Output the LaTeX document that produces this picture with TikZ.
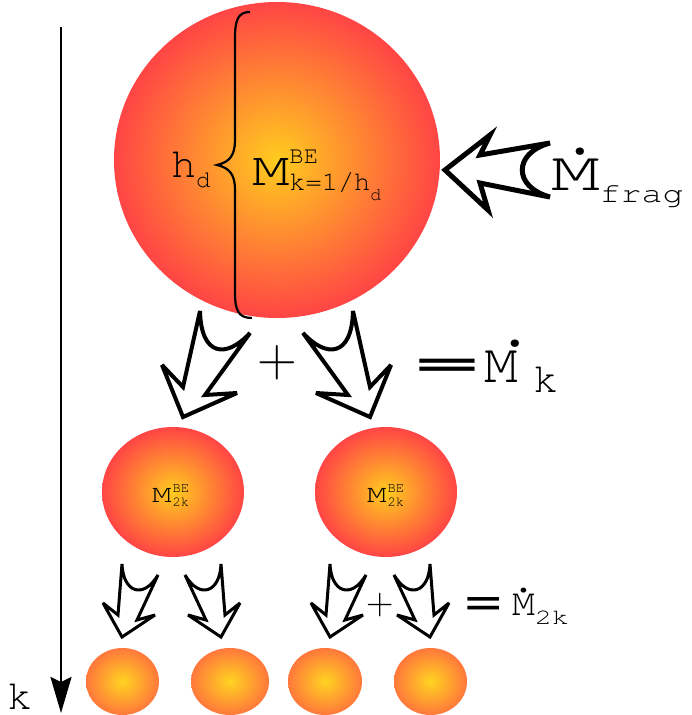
\documentclass[tikz,border=0pt]{standalone}
\usepackage{fontspec}
\usepackage{graphicx}
\newfontfamily\cour{texgyrecursor-regular.otf}
\newfontfamily\dvs{DejaVu Sans}
\usetikzlibrary{arrows.meta,shapes.geometric}
\pgfdeclareradialshading{ballred}{\pgfpoint{0bp}{0bp}}{rgb(0bp)=(1,0.80,0.12); rgb(25bp)=(1,0.27,0.27); rgb(50bp)=(1,0.27,0.27)}
\pgfdeclareradialshading{ballorange}{\pgfpoint{0bp}{0bp}}{rgb(0bp)=(1,0.83,0.13); rgb(25bp)=(1,0.47,0.23); rgb(50bp)=(1,0.47,0.23)}
\begin{document}
\begin{tikzpicture}[x=1pt,y=-1pt,
  ballR/.style={ellipse, shade, shading=ballred, draw=none, inner sep=0pt},
  ballO/.style={ellipse, shade, shading=ballorange, draw=none, inner sep=0pt},
  outl/.style={draw=black, fill=white, line join=miter, miter limit=5},
  bigarr/.style={outl, line width=4pt},
  smallarr/.style={outl, line width=3pt},
  fragarr/.style={outl, line width=5pt},
  lab/.style={inner sep=0pt, outer sep=0pt, anchor=base west, font=\cour},
  rlab/.style={inner sep=0pt, outer sep=0pt, anchor=base west},
  bigarrow/.pic={\draw[bigarr] (200,311) -- (183,387) -- (162,365) -- (183,417) -- (237,393) -- (205,395) -- (250,333) .. controls (226,359) and (201,356) .. cycle;},
  smallarrow/.pic={\draw[smallarr] (122,564) -- (118,615) -- (103,603) -- (122,637) -- (155,615) -- (137,620) -- (158,575) .. controls (143,600) and (123,592) .. cycle;}
  ]
\useasboundingbox (0,0) rectangle (692,715);

% balls
\node[ballR, minimum width=326pt, minimum height=316pt] (big) at (277,160) {};
\node[ballR, minimum width=142pt, minimum height=130pt] (mid1) at (173,492) {};
\node[ballR, minimum width=142pt, minimum height=130pt] (mid2) at (386,492) {};
\node[ballO, minimum width=73pt, minimum height=67pt] (s1) at (122.5,681.5) {};
\node[ballO, minimum width=78pt, minimum height=67pt] (s2) at (230,681.5) {};
\node[ballO, minimum width=74pt, minimum height=67pt] (s3) at (325,681.5) {};
\node[ballO, minimum width=73pt, minimum height=67pt] (s4) at (430.5,681.5) {};

% brace
\draw[line width=2.2pt] (250,12) .. controls (238,12) and (235,20) .. (235,38) -- (235,140) .. controls (235,155) and (230,162) .. (217,165) .. controls (230,168) and (235,175) .. (235,190) -- (235,292) .. controls (235,310) and (238,318) .. (252,318);

% labels in big ball
\node[lab] (hd) at (171,177) {\fontsize{42pt}{42pt}\selectfont h\fontsize{24pt}{24pt}\selectfont\raisebox{-10pt}{d}};
\node[lab] (mbig) at (252,185) {\fontsize{48pt}{48pt}\selectfont\scalebox{1.3}[1]{M}\fontsize{24pt}{24pt}\selectfont\rlap{\raisebox{22pt}{BE}}\fontsize{27pt}{27pt}\selectfont\raisebox{-5pt}{k=1/h\fontsize{18pt}{18pt}\selectfont\raisebox{-10pt}{d}}};

% fragmentation input arrow
\draw[fragarr] (445,170) -- (490,135) -- (480,155) -- (550,143) .. controls (513,153) and (513,187) .. (550,197) -- (480,183) -- (488,210) -- cycle;
\node[lab] (mfrag) at (551,190) {\fontsize{56pt}{56pt}\selectfont\rlap{\hspace*{12pt}\raisebox{36pt}{.}}\scalebox{1.45}[1]{M}\fontsize{28pt}{28pt}\selectfont\raisebox{-12pt}{\scalebox{1.25}[1]{frag}}};

% first split
\pic at (0,0) {bigarrow};
\pic[xscale=-1] at (553,0) {bigarrow};
\node[rlab] (plus1) at (257,376) {\fontsize{55pt}{55pt}\selectfont +};
\node[rlab] (eq1) at (410,376) {\dvs\fontsize{36pt}{36pt}\selectfont\bfseries\scalebox{2.45}[1]{=}};
\node[lab] (mk) at (484,382) {\fontsize{56pt}{56pt}\selectfont\rlap{\hspace*{14pt}\raisebox{36pt}{.}}M\hspace*{16pt}\fontsize{42pt}{42pt}\selectfont\raisebox{-10pt}{k}};

% mid labels
\node[lab] (mbe1) at (152,502) {\fontsize{25pt}{25pt}\selectfont\scalebox{1.3}[1]{M}\hspace*{1pt}\fontsize{14pt}{14pt}\selectfont\rlap{\raisebox{10pt}{BE}}\raisebox{-4pt}{2k}};
\node[lab] (mbe2) at (367,502) {\fontsize{25pt}{25pt}\selectfont\scalebox{1.3}[1]{M}\hspace*{1pt}\fontsize{14pt}{14pt}\selectfont\rlap{\raisebox{10pt}{BE}}\raisebox{-4pt}{2k}};

% second split
\pic at (0,0) {smallarrow};
\pic[xscale=-1] at (343,0) {smallarrow};
\pic at (208,0) {smallarrow};
\pic[xscale=-1] at (552,0) {smallarrow};
\node[rlab] (plus2) at (366,614.5) {\fontsize{38pt}{38pt}\selectfont +};
\node[rlab] (eq2) at (462,617) {\dvs\fontsize{44pt}{44pt}\selectfont\scalebox{1.15}[1]{=}};
\node[lab] (m2k) at (512,615) {\fontsize{38pt}{38pt}\selectfont\rlap{\raisebox{23pt}{.}}M\fontsize{22pt}{22pt}\selectfont\raisebox{-9pt}{\scalebox{1.3}[1]{2k}}};

% k axis
\coordinate (axtop) at (61,27);
\coordinate (axbot) at (61,713);
\draw[line width=2.5pt, -{Stealth[length=36pt,width=21pt,inset=5pt]}] (axtop) -- (axbot);
\node[lab] (klab) at (8,709) {\fontsize{42pt}{42pt}\selectfont k};
\end{tikzpicture}
\end{document}
